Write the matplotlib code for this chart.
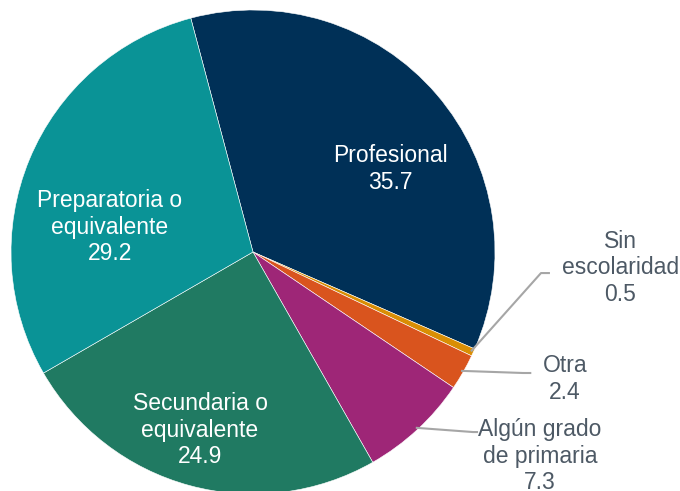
import numpy as np
import matplotlib
matplotlib.use("Agg")
import matplotlib.pyplot as plt

plt.rcParams['font.family'] = ['Liberation Sans', 'DejaVu Sans']

# data, clockwise from the top
labels = ['Profesional', 'Sin\nescolaridad', 'Otra', 'Algún grado\nde primaria',
          'Secundaria o\nequivalente', 'Preparatoria o\nequivalente']
values = [35.7, 0.5, 2.4, 7.3, 24.9, 29.2]
colors = ['#003057', '#D98E04', '#D9541E', '#9E2677', '#207A62', '#0A9396']

# label placement (data units, pie radius = 1)
inside = {0: (0.566, 0.343), 4: (-0.219, -0.736), 5: (-0.591, 0.103)}
outside = {1: ((1.517, -0.066), [(1.190, -0.087), (1.227, -0.087)]),
           2: ((1.289, -0.525), [(1.116, -0.500), (1.150, -0.500)]),
           3: ((1.186, -0.843), [(0.909, -0.744), (0.930, -0.744)])}

fig = plt.figure(figsize=(6.8, 4.91), dpi=100)
ax = fig.add_axes([0, 0, 1, 1])

wedges, _ = ax.pie(values, colors=colors, startangle=104.9, counterclock=False,
                   radius=1, wedgeprops=dict(linewidth=0.4, edgecolor='white'))

for i, w in enumerate(wedges):
    txt = f"{labels[i]}\n{values[i]}"
    if i in inside:
        x, y = inside[i]
        ax.text(x, y, txt, ha='center', va='center', color='white', fontsize=16.5)
    else:
        (x, y), pts = outside[i]
        ax.text(x, y, txt, ha='center', va='center', color='#4D5965', fontsize=16.5)
        mid = np.deg2rad((w.theta1 + w.theta2) / 2)
        xs = [np.cos(mid) * 0.99] + [p[0] for p in pts]
        ys = [np.sin(mid) * 0.99] + [p[1] for p in pts]
        ax.plot(xs, ys, color='#A6A6A6', lw=1.5, solid_capstyle='butt')

ax.set_xlim(-253 / 242, 427 / 242)
ax.set_ylim(-239 / 242, 252 / 242)
ax.set_aspect('auto')
ax.axis('off')

fig.savefig('out.png', dpi=100)
